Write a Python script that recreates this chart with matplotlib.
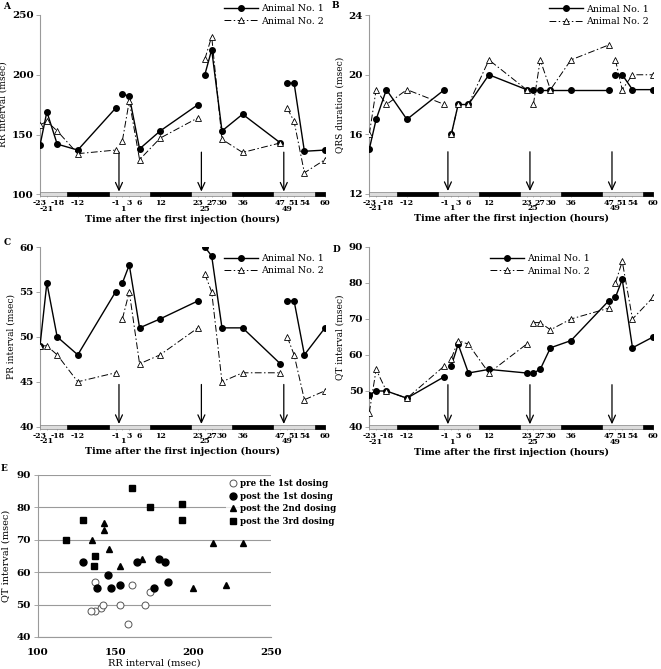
import numpy as np
import matplotlib
matplotlib.use('Agg')
import matplotlib.pyplot as plt
from matplotlib.patches import Rectangle

plt.rcParams['font.family'] = 'DejaVu Serif'

# sampling times, hours after the first injection
TIMES = [-23, -21, -18, -12, -1, 1, 3, 6, 12, 23, 25, 27, 30, 36, 47, 49, 51, 54, 60]
DOSE_TIMES = [0, 24, 48]
DARK_PERIODS = [(-15, -3), (9, 21), (33, 45), (57, 60)]
LOW_TICKS = [-21, 1, 25, 49]   # these labels sit on a second row

RR_1 = [141, 169, 142, 137, 172, 184, 182, 138, 153, 175, 200, 221, 153, 167, 143, 193, 193, 136, 137]
RR_2 = [158, 161, 153, 134, 137, 145, 178, 129, 147, 164, 213, 232, 146, 135, 143, 172, 161, 118, 129]
QRS_1 = [15, 17, 19, 17, 19, 16, 18, 18, 20, 19, 19, 19, 19, 19, 19, 20, 20, 19, 19]
QRS_2 = [16, 19, 18, 19, 18, 16, 18, 18, 21, 19, 18, 21, 19, 21, 22, 21, 19, 20, 20]
PR_1 = [49, 56, 50, 48, 55, 56, 58, 51, 52, 54, 60, 59, 51, 51, 47, 54, 54, 48, 51]
PR_2 = [49, 49, 48, 45, 46, 52, 55, 47, 48, 51, 57, 55, 45, 46, 46, 50, 48, 43, 44]
QT_1 = [49, 50, 50, 48, 54, 57, 63, 55, 56, 55, 55, 56, 62, 64, 75, 76, 81, 62, 65]
QT_2 = [44, 56, 50, 48, 57, 59, 64, 63, 55, 63, 69, 69, 67, 70, 73, 80, 86, 70, 76]

ANIMALS = ['Animal No. 1', 'Animal No. 2']
PHASES = ['pre the 1st dosing', 'post the 1st dosing', 'post the 2nd dosing', 'post the 3rd dosing']

GRAY = '#9a9a9a'


def time_panel(ax, y1, y2, ylim, yticks, ylabel, leg_anchor):
    t = np.array(TIMES)
    phase = np.searchsorted(DOSE_TIMES, t)
    for p in range(len(DOSE_TIMES) + 1):
        m = phase == p
        ax.plot(t[m], np.array(y1)[m], '-', color='black', lw=1.0, marker='o',
                ms=4, mfc='black', mec='black', label=ANIMALS[0] if p == 0 else None, zorder=3)
        ax.plot(t[m], np.array(y2)[m], color='black', lw=0.7, ls=(0, (7, 2.5, 1.5, 2.5)),
                marker='^', ms=4.5, mfc='white', mec='black', mew=0.6,
                label=ANIMALS[1] if p == 0 else None, zorder=4)

    ax.set_xlim(TIMES[0], TIMES[-1])
    ax.set_ylim(*ylim)
    ax.set_yticks(yticks)
    for s in ['top', 'right', 'bottom']:
        ax.spines[s].set_visible(False)
    ax.spines['left'].set_color(GRAY)
    ax.spines['left'].set_linewidth(0.8)
    ax.tick_params(axis='y', length=3, width=0.6, color=GRAY, pad=1.5, labelsize=7.5)
    for lab in ax.get_yticklabels():
        lab.set_fontweight('bold')

    major = [x for x in TIMES if x not in LOW_TICKS]
    ax.set_xticks(major)
    ax.set_xticklabels([str(x) for x in major], fontweight='bold')
    ax.set_xticks(LOW_TICKS, minor=True)
    ax.set_xticklabels([str(x) for x in LOW_TICKS], minor=True, fontweight='bold')
    ax.tick_params(axis='x', which='major', length=2, width=0.5, color=GRAY, pad=1.5, labelsize=5.6)
    ax.tick_params(axis='x', which='minor', length=2, width=0.5, color=GRAY, pad=5.6, labelsize=5.6)
    ax.set_xlabel('Time after the first injection (hours)', fontweight='bold', fontsize=6.8, labelpad=1.5)
    ax.set_ylabel(ylabel, fontsize=6.5, labelpad=3)

    # light / dark cycle strip along the time axis
    tr = ax.get_xaxis_transform()
    ax.add_patch(Rectangle((TIMES[0], -0.011), TIMES[-1] - TIMES[0], 0.022, transform=tr,
                           facecolor='#dcdcdc', edgecolor='#808080', lw=0.5, clip_on=False, zorder=5))
    for a, b in DARK_PERIODS:
        ax.add_patch(Rectangle((a, -0.011), b - a, 0.022, transform=tr,
                               facecolor='black', edgecolor='black', lw=0.5, clip_on=False, zorder=6))

    # injection arrows
    for d in DOSE_TIMES:
        ax.annotate('', xy=(d, 0.015), xytext=(d, 0.235), xycoords=tr, textcoords=tr,
                    arrowprops=dict(arrowstyle='->,head_length=0.55,head_width=0.25',
                                    color='black', lw=0.9, shrinkA=0, shrinkB=0))

    ax.legend(loc='upper left', bbox_to_anchor=leg_anchor, frameon=False, fontsize=6.8,
              handlelength=3.6, handletextpad=0.3, labelspacing=0.35, borderaxespad=0,
              borderpad=0)


fig = plt.figure(figsize=(6.61, 6.69), dpi=100)
W, H = 661.0, 669.0


def px_axes(x0, y0, x1, y1):
    return fig.add_axes([x0 / W, 1 - y1 / H, (x1 - x0) / W, (y1 - y0) / H])


axA = px_axes(40, 15, 325, 194.3)
axB = px_axes(369.3, 15.3, 653, 193.7)
axC = px_axes(40, 247, 325, 426.7)
axD = px_axes(369.3, 247, 653, 427)
axE = px_axes(37.7, 474.7, 270.7, 637)

time_panel(axA, RR_1, RR_2, (100, 250), [100, 150, 200, 250], 'RR interval (msec)', (0.645, 1.06))
time_panel(axB, QRS_1, QRS_2, (12, 24), [12, 16, 20, 24], 'QRS duration (msec)', (0.635, 1.06))
time_panel(axC, PR_1, PR_2, (40, 60), [40, 45, 50, 55, 60], 'PR interval (msec)', (0.645, 0.96))
time_panel(axD, QT_1, QT_2, (40, 90), [40, 50, 60, 70, 80, 90], 'QT interval (msec)', (0.425, 0.96))

# E: QT vs RR, split by dosing phase
rr = np.array(RR_1 + RR_2)
qt = np.array(QT_1 + QT_2)
ph = np.searchsorted(DOSE_TIMES, np.array(TIMES + TIMES))
styles = [dict(marker='o', mfc='white', mec='#555555', mew=0.7, ms=5),
          dict(marker='o', mfc='black', mec='black', ms=5),
          dict(marker='^', mfc='black', mec='black', ms=5),
          dict(marker='s', mfc='black', mec='black', ms=5)]
for p in range(4):
    m = ph == p
    axE.plot(rr[m], qt[m], ls='none', label=PHASES[p], zorder=3, **styles[p])
axE.set_xlim(100, 250)
axE.set_ylim(40, 90)
axE.set_xticks([100, 150, 200, 250])
axE.set_yticks([40, 50, 60, 70, 80, 90])
axE.yaxis.grid(True, color=GRAY, lw=0.8)
axE.set_axisbelow(True)
for s in ['top', 'right']:
    axE.spines[s].set_visible(False)
for s in ['left', 'bottom']:
    axE.spines[s].set_color(GRAY)
    axE.spines[s].set_linewidth(0.8)
axE.tick_params(axis='y', length=3, width=0.6, color=GRAY, pad=2, labelsize=7.5)
axE.tick_params(axis='x', length=0, pad=8, labelsize=7.5)
for lab in axE.get_xticklabels() + axE.get_yticklabels():
    lab.set_fontweight('bold')
axE.set_xlabel('RR interval (msec)', fontsize=7, labelpad=1)
axE.set_ylabel('QT interval (msec)', fontsize=7, labelpad=4)
leg = axE.legend(loc='upper left', bbox_to_anchor=(0.81, 0.985), frameon=True, fancybox=False,
                 prop=dict(weight='bold', size=6.2), handlelength=1.0, handletextpad=0.35,
                 labelspacing=0.4, borderaxespad=0, borderpad=0.25)
leg.get_frame().set_facecolor('white')
leg.get_frame().set_edgecolor('none')

for letter, x, y in [('A', 3, 2), ('B', 332, 1), ('C', 4, 238), ('D', 333, 245), ('E', 1, 464)]:
    fig.text(x / W, 1 - y / H, letter, fontweight='bold', fontsize=6.5, va='top', ha='left')

fig.savefig('out.png', dpi=100)
